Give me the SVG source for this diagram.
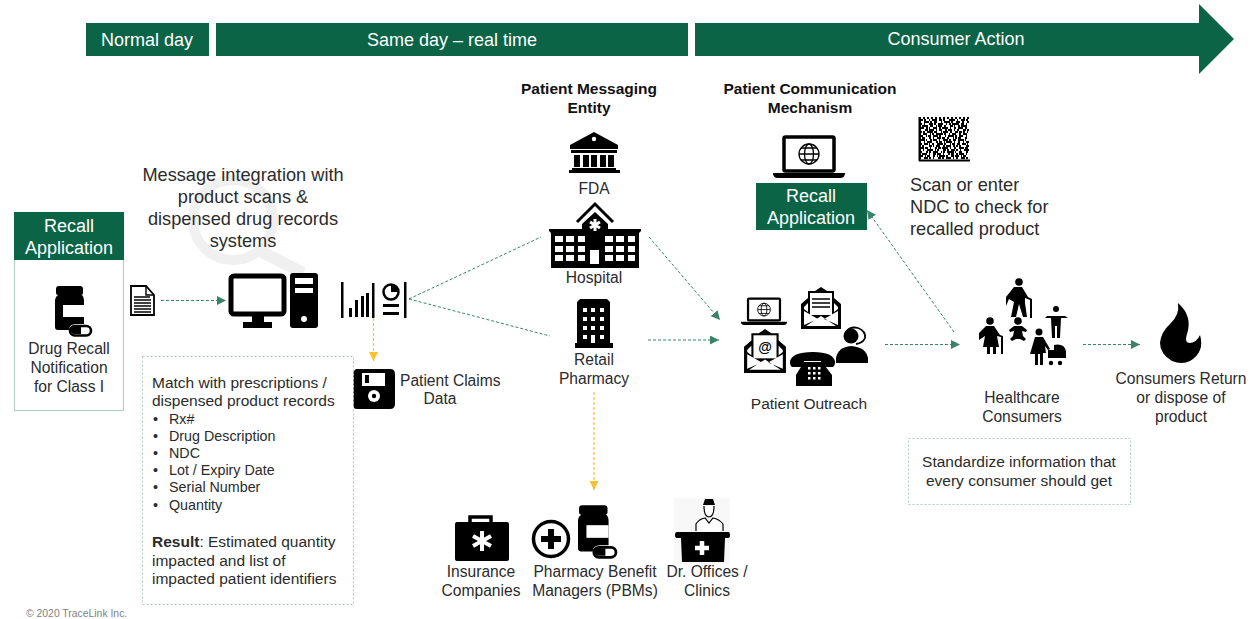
<svg xmlns="http://www.w3.org/2000/svg" width="1254" height="619" viewBox="0 0 1254 619">
<style>
text{font-family:"Liberation Sans",Arial,sans-serif;fill:#2b2b2b;font-size:15.600px}
.m{text-anchor:middle}
.w{fill:#fff;font-size:18px}
.bn{fill:#fff;font-size:18px}
.b{font-weight:bold;font-size:15.500px;fill:#111}
.l{font-size:18.200px}
.s{font-size:14.300px}
.p{font-size:15.500px}
.g{fill:#0b6446}
.conn{fill:none;stroke:#0b6446;stroke-width:1;stroke-dasharray:3 2;opacity:.8}
.y{fill:none;stroke:#fbc02d;stroke-width:1.200;stroke-dasharray:3 2}
.box{fill:#fff;stroke:#b9c8c0;stroke-width:1;stroke-dasharray:2 2}
.qr{stroke:#000;stroke-width:2;fill:none}
</style>
<defs>
<marker id="ag" markerUnits="userSpaceOnUse" markerWidth="10" markerHeight="9" refX="9" refY="4.500" orient="auto"><path d="M0 0L9 4.500L0 9z" fill="#0b6446"/></marker>
<marker id="ay" markerUnits="userSpaceOnUse" markerWidth="10" markerHeight="9" refX="9" refY="4.500" orient="auto"><path d="M0 0L9 4.500L0 9z" fill="#fbc02d"/></marker>
<symbol id="bottle" viewBox="0 0 37 50" overflow="visible">
<path d="M4 0H25Q28 0 28 3V7Q28 9 26 9H27Q29 11 29 14V38H21Q14 38 14 44H3Q0 44 0 41V14Q0 11 3 9Q1 9 1 7V3Q1 0 4 0Z" fill="#000"/>
<rect x="8" y="19" width="21" height="12" fill="#fff"/>
<rect x="15" y="40" width="21" height="9.500" rx="4.700" fill="#fff" stroke="#000" stroke-width="2.600"/>
<path d="M16 45v-1q0-3 3-3h7v7h-7q-3 0-3-3z" fill="#000"/>
</symbol>
<symbol id="laptop" viewBox="0 0 72 44" overflow="visible">
<rect x="11" y="2" width="50" height="34" rx="1.500" fill="#fff" stroke="#000" stroke-width="3.500"/>
<path d="M0 38H72Q72 43 67 43H5Q0 43 0 38Z" fill="#000"/>
<g fill="none" stroke="#000" stroke-width="1.300"><circle cx="36" cy="19" r="10"/><ellipse cx="36" cy="19" rx="4.500" ry="10"/><path d="M26 19H46M28 13H44M28 25H44"/></g>
</symbol>
<symbol id="env" viewBox="0 0 40 42" overflow="visible">
<path d="M20 0L26 4H33V11L40 17V42H0V17L7 11V4H14Z" fill="#000"/>
<rect x="9" y="6" width="22" height="22" fill="#fff"/>
<path d="M3 20L7 16V25L3 22ZM37 20L33 16V25L37 22Z" fill="#fff"/>
<path d="M3 24L17 32L3 38ZM37 24L23 32L37 38ZM5 39L20 29L35 39Z" fill="#fff"/>
</symbol>
</defs>

<g id="banner-normal"><rect x="86" y="23" width="123" height="33" class="g"/><text x="147" y="46" class="m bn">Normal day</text></g>
<g id="banner-same"><rect x="216" y="23" width="472" height="33" class="g"/><text x="452" y="46" class="m bn">Same day – real time</text></g>
<g id="banner-consumer"><path d="M695 23H1199V4L1234 39L1199 74V56H695Z" class="g"/><text x="956" y="45" class="m bn">Consumer Action</text></g>

<g id="magnifier" fill="none" stroke="#f0f0f0"><circle cx="233" cy="220" r="40" stroke-width="10"/><path d="M262 252L303 273" stroke-width="12"/></g>

<g id="connectors">
<path class="conn" d="M161 300.500H226" marker-end="url(#ag)"/>
<path class="conn" d="M409 299L541 237"/>
<path class="conn" d="M409 299L550 336"/>
<path class="conn" d="M649 237L720 320" marker-end="url(#ag)"/>
<path class="conn" d="M648 340H719" marker-end="url(#ag)"/>
<path class="conn" d="M885 344.500H960" marker-end="url(#ag)"/>
<path class="conn" d="M954 332L867 210" marker-end="url(#ag)"/>
<path class="conn" d="M1083 344.500H1140" marker-end="url(#ag)"/>
<path class="y" d="M373.500 318V361" marker-end="url(#ay)"/>
<path class="y" d="M594 392V490" marker-end="url(#ay)"/>
</g>

<g id="recall-app-left">
<rect x="14.500" y="212.500" width="109" height="198" fill="#fff" stroke="#b5d0c5" stroke-width="1.200"/>
<rect x="14" y="212" width="110" height="48" class="g"/>
<text x="69" y="232" class="m w">Recall</text><text x="69" y="254" class="m w">Application</text>
<use href="#bottle" x="55" y="286" width="37" height="50"/>
<text x="69" y="354" class="m">Drug Recall</text><text x="69" y="373" class="m">Notification</text><text x="69" y="392" class="m">for Class I</text>
</g>

<g id="document"><path d="M131 286H146L154 295V315H131Z" fill="#fff" stroke="#000" stroke-width="1.800"/><path d="M146 286V295H154" fill="none" stroke="#000" stroke-width="1.400"/><path d="M134 297H150M134 300H151M134 303H151M134 306H151M134 309H151M134 312H151" stroke="#000" stroke-width="1.400"/></g>

<g id="integration-text">
<text x="243" y="181" class="m l">Message integration with</text><text x="243" y="203" class="m l">product scans &amp;</text><text x="243" y="225" class="m l">dispensed drug records</text><text x="243" y="247" class="m l">systems</text>
</g>

<g id="computer">
<rect x="231" y="276" width="53" height="38" rx="3" fill="#fff" stroke="#000" stroke-width="5"/>
<path d="M252 316H264V322H272V328H243V322H252Z" fill="#000"/>
<rect x="290" y="273" width="28" height="55" rx="3" fill="#000"/>
<rect x="295" y="278" width="18" height="6" fill="#fff"/><rect x="295" y="288" width="18" height="5" fill="#fff"/><circle cx="304" cy="319" r="3" fill="#fff"/>
</g>

<g id="analytics" fill="#000">
<rect x="341" y="282" width="2.500" height="36"/><rect x="349" y="308" width="3" height="9"/><rect x="355" y="300" width="3" height="17"/><rect x="361" y="296" width="3" height="21"/><rect x="366" y="293" width="3" height="24"/><rect x="372" y="283" width="2.500" height="35"/>
<circle cx="391" cy="292" r="7.500" fill="#fff" stroke="#000" stroke-width="2.500"/><path d="M391 292V284A8 8 0 0 1 398 292Z"/>
<rect x="383" y="304" width="16" height="3"/><rect x="383" y="312" width="16" height="3"/><rect x="404" y="282" width="2.500" height="36"/>
</g>

<g id="floppy"><path d="M356 369H390Q395 369 395 374V404Q395 409 390 409H357Q353 409 353 405V372Z" fill="#000"/><rect x="362" y="373" width="23" height="13" fill="#fff"/><rect x="365" y="375" width="4" height="8" fill="#000"/><circle cx="374" cy="396" r="6" fill="#fff"/><circle cx="374" cy="396" r="2.200" fill="#000"/></g>
<g id="claims-text"><text x="400" y="386">Patient Claims</text><text x="440" y="404" class="m">Data</text></g>

<g id="match-box">
<rect x="142.500" y="356.500" width="211" height="248" class="box"/>
<text x="152" y="388" class="p">Match with prescriptions /</text><text x="152" y="406" class="p">dispensed product records</text>
<text x="153" y="424" class="s">•</text><text x="169" y="424" class="s">Rx#</text>
<text x="153" y="441" class="s">•</text><text x="169" y="441" class="s">Drug Description</text>
<text x="153" y="458" class="s">•</text><text x="169" y="458" class="s">NDC</text>
<text x="153" y="475" class="s">•</text><text x="169" y="475" class="s">Lot / Expiry Date</text>
<text x="153" y="492" class="s">•</text><text x="169" y="492" class="s">Serial Number</text>
<text x="153" y="510" class="s">•</text><text x="169" y="510" class="s">Quantity</text>
<text x="152" y="547" class="p"><tspan font-weight="bold">Result</tspan>: Estimated quantity</text><text x="152" y="566" class="p">impacted and list of</text><text x="152" y="584" class="p">impacted patient identifiers</text>
</g>

<g id="messaging-title"><text x="589" y="94" class="m b">Patient Messaging</text><text x="589" y="113" class="m b">Entity</text></g>
<g id="fda">
<path d="M594 132L618 145V149H570V145Z M571 150H617V153H571Z M574 155H580V167H574Z M583 155H589V167H583Z M591 155H597V167H591Z M600 155H606V167H600Z M608 155H614V167H608Z M572 168H616V170H572Z M569 170H620V173H569Z" fill="#000"/><circle cx="594" cy="139" r="2.200" fill="#fff"/>
<text x="594" y="194" class="m">FDA</text>
</g>
<g id="hospital">
<path d="M577 222L595 204L613 222" fill="none" stroke="#000" stroke-width="3"/>
<path d="M595 212L608 224V229H641V231L639 233V268H551V233L549 231V229H582V224Z" fill="#000"/>
<path d="M595 219v12M590 222l10 6M600 222l-10 6" stroke="#fff" stroke-width="3"/>
<g fill="#fff"><rect x="555" y="236" width="8" height="6"/><rect x="566" y="236" width="8" height="6"/><rect x="578" y="236" width="7" height="6"/><rect x="605" y="236" width="8" height="6"/><rect x="616" y="236" width="8" height="6"/><rect x="628" y="236" width="7" height="6"/>
<rect x="555" y="246" width="8" height="6"/><rect x="566" y="246" width="8" height="6"/><rect x="578" y="246" width="7" height="6"/><rect x="605" y="246" width="8" height="6"/><rect x="616" y="246" width="8" height="6"/><rect x="628" y="246" width="7" height="6"/>
<rect x="555" y="255" width="8" height="6"/><rect x="566" y="255" width="8" height="6"/><rect x="578" y="255" width="7" height="6"/><rect x="605" y="255" width="8" height="6"/><rect x="616" y="255" width="8" height="6"/><rect x="628" y="255" width="7" height="6"/>
<rect x="590" y="250" width="9" height="14"/></g>
<text x="594" y="283" class="m">Hospital</text>
</g>
<g id="retail">
<path d="M580 299H607L610 302V343H613V348H575V343H577V302Z" fill="#000"/>
<g fill="#fff"><rect x="583" y="308" width="4" height="4"/><rect x="591" y="308" width="4" height="4"/><rect x="600" y="308" width="4" height="4"/><rect x="583" y="317" width="4" height="4"/><rect x="591" y="317" width="4" height="4"/><rect x="600" y="317" width="4" height="4"/><rect x="583" y="326" width="4" height="4"/><rect x="591" y="326" width="4" height="4"/><rect x="600" y="326" width="4" height="4"/><rect x="583" y="335" width="4" height="4"/><rect x="600" y="335" width="4" height="4"/><rect x="591" y="335" width="4" height="8"/></g>
<text x="594" y="365" class="m">Retail</text><text x="594" y="384" class="m">Pharmacy</text>
</g>

<g id="mechanism-title"><text x="810" y="94" class="m b">Patient Communication</text><text x="810" y="113" class="m b">Mechanism</text></g>
<g id="recall-app-top">
<use href="#laptop" x="773" y="135" width="72" height="44"/>
<rect x="756" y="183" width="111" height="47" class="g"/>
<text x="811" y="202" class="m w">Recall</text><text x="811" y="224" class="m w">Application</text>
</g>

<g id="qr">
<path class="qr" stroke-dasharray="2 2" d="M919 118H969"/>
<path class="qr" stroke-dasharray="4 1 2 3 1 2 5 2 3 1 2 4 6 2 1 3" d="M919 120H968"/>
<path class="qr" stroke-dasharray="2 3 5 1 2 2 3 4 1 2 6 1 2 3 4 2" d="M919 122H969"/>
<path class="qr" stroke-dasharray="3 2 1 4 4 1 2 2 5 3 1 2 2 1 7 2" d="M919 124H968"/>
<path class="qr" stroke-dasharray="2 1 6 2 3 3 1 1 4 2 2 4 3 1 1 3" d="M919 126H969"/>
<path class="qr" stroke-dasharray="5 2 2 1 1 3 4 2 2 1 6 2 1 3 2 2" d="M919 128H968"/>
<path class="qr" stroke-dasharray="2 4 3 1 5 2 1 2 3 3 2 1 4 2 1 2" d="M919 130H969"/>
<path class="qr" stroke-dasharray="3 1 2 2 6 1 3 4 1 1 5 2 2 3 3 1" d="M919 132H968"/>
<path class="qr" stroke-dasharray="2 2 4 3 1 1 2 2 7 1 2 3 1 2 4 3" d="M919 134H969"/>
<path class="qr" stroke-dasharray="4 3 1 1 3 2 5 1 2 4 1 2 6 1 2 2" d="M919 136H968"/>
<path class="qr" stroke-dasharray="2 1 3 4 2 2 1 3 4 1 3 2 2 4 1 1" d="M919 138H969"/>
<path class="qr" stroke-dasharray="6 1 1 3 2 1 4 2 1 3 5 1 2 2 3 2" d="M919 140H968"/>
<path class="qr" stroke-dasharray="2 3 1 2 5 4 2 1 3 2 1 1 6 2 1 3" d="M919 142H969"/>
<path class="qr" stroke-dasharray="3 2 4 1 1 2 2 3 6 1 2 4 1 1 3 2" d="M919 144H968"/>
<path class="qr" stroke-dasharray="2 1 2 5 3 1 1 2 4 3 2 1 5 2 2 1" d="M919 146H969"/>
<path class="qr" stroke-dasharray="5 1 3 2 1 4 2 1 3 1 6 2 1 3 2 3" d="M919 148H968"/>
<path class="qr" stroke-dasharray="2 2 1 3 6 2 1 1 2 4 3 1 2 2 4 1" d="M919 150H969"/>
<path class="qr" stroke-dasharray="3 4 2 1 2 2 5 3 1 1 2 2 7 1 1 3" d="M919 152H968"/>
<path class="qr" stroke-dasharray="2 1 5 2 1 3 3 1 4 2 1 4 2 1 3 2" d="M919 154H969"/>
<path class="qr" stroke-dasharray="4 2 1 1 3 3 2 2 1 1 6 1 2 3 3 1" d="M919 156H968"/>
<path class="qr" stroke-dasharray="2 3 4 1 2 2 1 4 3 1 2 2 5 2 1 2" d="M919 158H969"/>
<path class="qr" d="M919 160.500H970M919.500 117V161" stroke-width="2.200"/>
</g>
<g id="scan-text"><text x="910" y="191" class="l">Scan or enter</text><text x="910" y="213" class="l">NDC to check for</text><text x="910" y="235" class="l">recalled product</text></g>

<g id="outreach">
<use href="#laptop" x="741" y="297" width="46" height="29"/>
<use href="#env" x="801" y="287" width="40" height="42"/>
<path d="M812 299H830M812 303H830M812 307H830" stroke="#000" stroke-width="1.600"/>
<use href="#env" x="744" y="329" width="42" height="44"/>
<text x="765" y="352" class="m" style="font-size:14px;font-weight:bold;fill:#000">@</text>
<path d="M790 362Q791 352 813 352Q834 352 835 362Q835 367 832 367H825Q821 367 821 361H804Q804 367 800 367H793Q790 367 790 362Z" fill="#000"/><path d="M804 362H822L832 375V386H796V375Z" fill="#000"/>
<g fill="#fff"><rect x="808" y="367" width="2.500" height="2.500"/><rect x="813" y="367" width="2.500" height="2.500"/><rect x="818" y="367" width="2.500" height="2.500"/><rect x="808" y="372" width="2.500" height="2.500"/><rect x="813" y="372" width="2.500" height="2.500"/><rect x="818" y="372" width="2.500" height="2.500"/><rect x="808" y="377" width="2.500" height="2.500"/><rect x="813" y="377" width="2.500" height="2.500"/><rect x="818" y="377" width="2.500" height="2.500"/></g>
<circle cx="851" cy="336" r="7.500" fill="#000"/><path d="M846 332Q850 326 858 328Q866 331 865 338Q863 343 856 344" fill="none" stroke="#000" stroke-width="1.800"/><path d="M836 363V358Q838 347 851 346Q866 347 868 358V363Z" fill="#000"/>
<text x="809" y="409" class="m p">Patient Outreach</text>
</g>

<g id="consumers" fill="#000">
<circle cx="1019" cy="282" r="3.800"/><path d="M1014 287H1022L1028 297L1032 299V318H1030V300L1025 298V303L1027 317H1023L1019 304L1016 317H1011L1014 302L1009 299L1006 306L1006 297Z"/>
<circle cx="990" cy="321" r="3.800"/><path d="M986 326H994L1000 335L1003 336V354H1001V337L997 336L999 347H996V354H993V347H990V354H987V347H983L985 336L979 340V333Z"/>
<circle cx="1018" cy="321" r="3.800"/><path d="M1014 326H1022L1027 330L1026 332L1022 331L1023 336L1026 339L1024 341L1020 339H1016L1012 341L1010 339L1013 336L1014 331L1010 332L1009 330Z"/>
<circle cx="1056" cy="309" r="3"/><path d="M1047 316H1065L1068 318L1061 318L1060 338H1057V326H1055V338H1052L1051 318L1045 318Z"/>
<circle cx="1039" cy="332" r="3.500"/><path d="M1035 337H1043L1050 349L1048 350L1045 346L1046 353H1043V365H1040V354H1038V365H1035V354H1030Z"/>
<path d="M1048 350H1054V345Q1064 343 1066 351V358H1048Z"/><circle cx="1051" cy="363" r="2.200"/><circle cx="1060" cy="363" r="2.200"/>
</g>
<g id="consumers-text"><text x="1022" y="403" class="m">Healthcare</text><text x="1022" y="422" class="m">Consumers</text></g>

<g id="flame"><path d="M1178 303Q1193 316 1187 334Q1184 343 1190 343Q1197 342 1200 335Q1205 352 1190 361Q1182 365 1172 361Q1160 354 1160 343Q1161 332 1170 324Q1180 315 1178 303Z" fill="#000"/></g>
<g id="flame-text"><text x="1181" y="384" class="m">Consumers Return</text><text x="1181" y="403" class="m">or dispose of</text><text x="1181" y="422" class="m">product</text></g>

<g id="standardize">
<rect x="908.500" y="438.500" width="222" height="66" class="box"/>
<text x="1019" y="467" class="m p">Standardize information that</text><text x="1019" y="486" class="m p">every consumer should get</text>
</g>

<g id="insurance">
<path d="M470 523V517H491V523" fill="none" stroke="#000" stroke-width="3.500"/>
<rect x="455" y="522" width="54" height="39" rx="2" fill="#000"/>
<path d="M482 531v20M473 536l18 10M491 536l-18 10" stroke="#fff" stroke-width="4"/>
<text x="481" y="577" class="m">Insurance</text><text x="481" y="596" class="m">Companies</text>
</g>
<g id="pbm">
<circle cx="551" cy="539" r="17.500" fill="#fff" stroke="#000" stroke-width="3.500"/><path d="M551 529v20M541 539h20" stroke="#000" stroke-width="6"/>
<use href="#bottle" x="578" y="504" width="39" height="55"/>
<text x="595" y="577" class="m">Pharmacy Benefit</text><text x="595" y="596" class="m">Managers (PBMs)</text>
</g>
<g id="clinics">
<rect x="674" y="498" width="56" height="66" fill="#f8f8f8"/>
<path d="M705 499H713L715 505H703Z" fill="#000"/><path d="M704 506Q704 517 709 517Q714 517 714 506" fill="#fff" stroke="#000" stroke-width="1.200"/>
<path d="M696 531V524Q699 519 705 518L709 523L713 518Q719 519 723 524V531" fill="#fff" stroke="#000" stroke-width="1.200"/>
<path d="M677 532H728Q730 532 730 535Q730 538 728 538H725L724 562H682L681 538H677Q675 538 675 535Q675 532 677 532Z" fill="#000"/>
<path d="M702 541v14M695 548h14" stroke="#fff" stroke-width="4.500"/>
<text x="707" y="577" class="m">Dr. Offices /</text><text x="707" y="596" class="m">Clinics</text>
</g>

<g id="copyright"><text x="26" y="617" style="font-size:10.400px;fill:#7f7f7f">© 2020 TraceLink Inc.</text></g>
</svg>
